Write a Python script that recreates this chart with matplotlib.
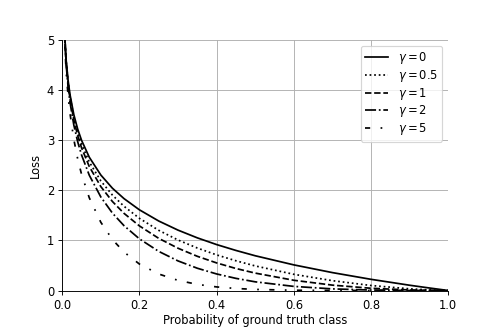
import matplotlib
matplotlib.use("Agg")
import matplotlib.pyplot as plt

p = [0.005, 0.01, 0.015, 0.02, 0.03, 0.04, 0.05, 0.07, 0.1, 0.13, 0.16, 0.2, 0.25, 0.3,
     0.35, 0.4, 0.45, 0.5, 0.6, 0.7, 0.8, 0.9, 0.95, 1.0]
loss_g0 = [5.298, 4.605, 4.200, 3.912, 3.507, 3.219, 2.996, 2.659, 2.303, 2.040, 1.833, 1.609,
           1.386, 1.204, 1.050, 0.916, 0.799, 0.693, 0.511, 0.357, 0.223, 0.105, 0.0513, 0.0]
loss_g05 = [5.285, 4.582, 4.168, 3.873, 3.454, 3.154, 2.920, 2.564, 2.185, 1.903, 1.680, 1.439,
            1.200, 1.007, 0.847, 0.710, 0.593, 0.490, 0.323, 0.196, 0.0998, 0.0333, 0.0115, 0.0]
loss_g1 = [5.272, 4.559, 4.137, 3.834, 3.402, 3.090, 2.846, 2.473, 2.072, 1.775, 1.539, 1.288,
           1.040, 0.843, 0.682, 0.550, 0.439, 0.347, 0.204, 0.107, 0.0446, 0.0105, 0.0026, 0.0]
loss_g2 = [5.245, 4.513, 4.075, 3.757, 3.300, 2.967, 2.704, 2.300, 1.865, 1.544, 1.293, 1.030,
           0.780, 0.590, 0.444, 0.330, 0.242, 0.173, 0.0818, 0.0321, 0.0089, 0.0011, 0.0001, 0.0]
loss_g5 = [5.167, 4.379, 3.895, 3.536, 3.012, 2.625, 2.318, 1.850, 1.360, 1.017, 0.767, 0.527,
           0.329, 0.202, 0.122, 0.0713, 0.0402, 0.0217, 0.0052, 0.0009, 0.0001, 0.0, 0.0, 0.0]

series = [
    (loss_g0, r"$\gamma = 0$", "-"),
    (loss_g05, r"$\gamma = 0.5$", ":"),
    (loss_g1, r"$\gamma = 1$", "--"),
    (loss_g2, r"$\gamma = 2$", "-."),
    (loss_g5, r"$\gamma = 5$", (0, (3, 6, 1, 6))),
]

fig = plt.figure(figsize=(6, 4), dpi=83)
ax = fig.add_subplot(111)
fig.subplots_adjust(left=0.125, right=0.9, top=0.88, bottom=0.125)
for vals, lab, ls in series:
    ax.plot(p, vals, color="black", linestyle=ls, linewidth=1.5, label=lab)

ax.set_xlim(0, 1)
ax.set_ylim(0, 5)
ax.set_xlabel("Probability of ground truth class", labelpad=2)
ax.set_ylabel("Loss")
ax.grid(True, color="#b0b0b0", linewidth=0.8)
ax.spines["top"].set_visible(False)
ax.spines["right"].set_visible(False)
ax.legend(loc="upper right", fontsize=10, labelspacing=0.15)
fig.savefig("out.png", dpi=83)
